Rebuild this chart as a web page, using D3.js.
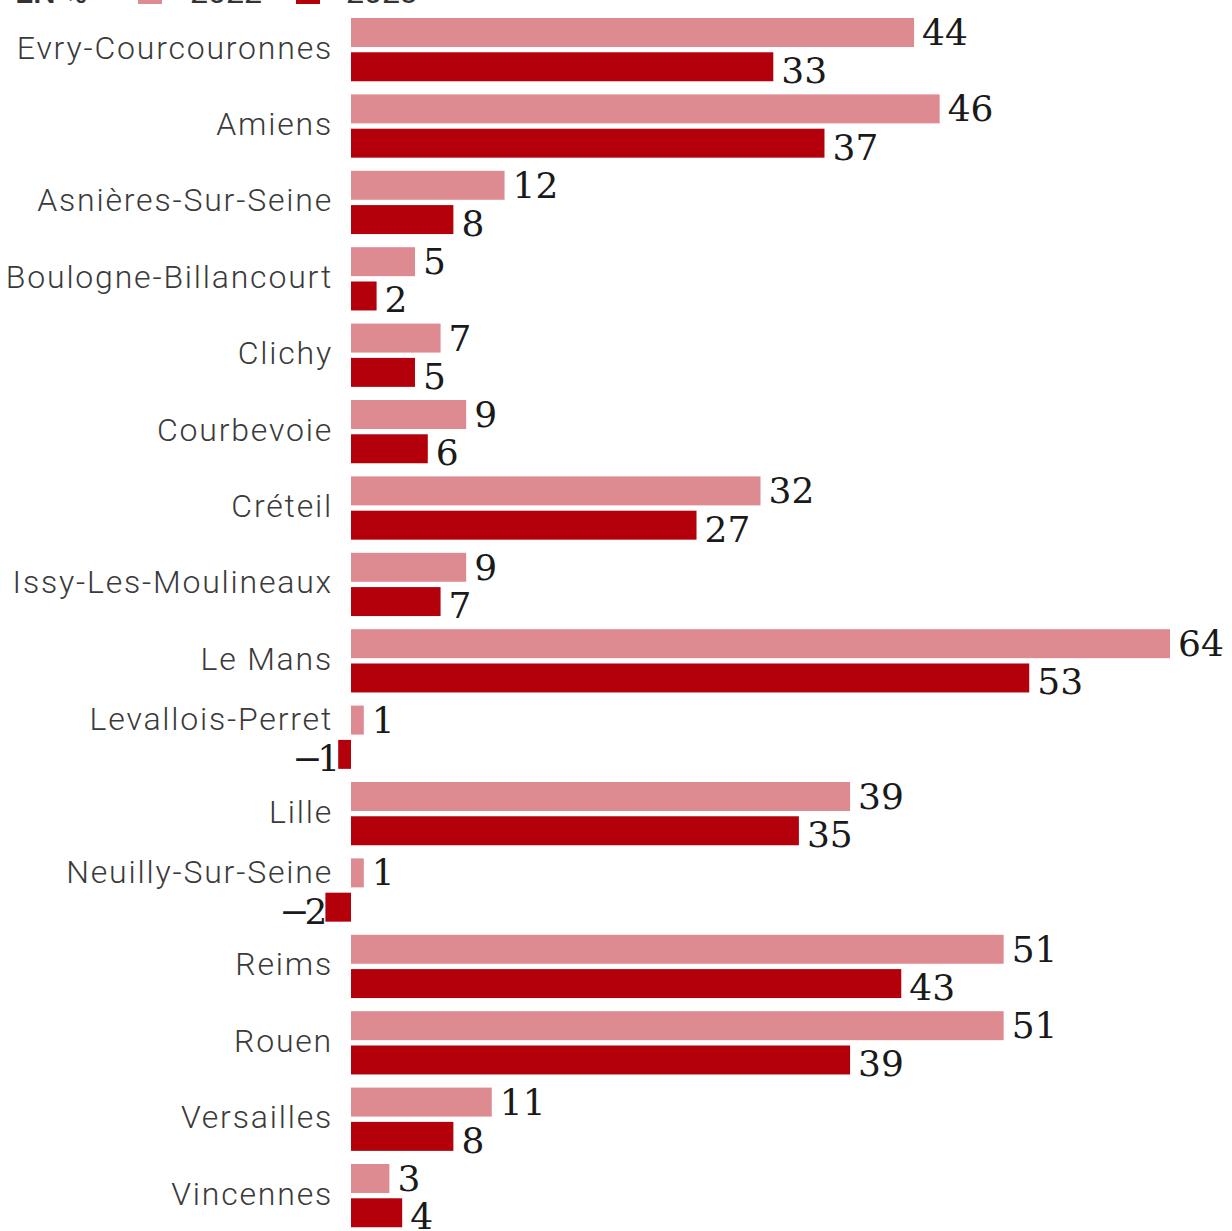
<!DOCTYPE html>
<html><head><meta charset="utf-8">
<script src="https://cdn.jsdelivr.net/npm/d3@7"></script>
<style>body{margin:0;background:#fff}svg{display:block}</style>
</head><body>
<script>
const categories = ["Evry-Courcouronnes","Amiens","Asnières-Sur-Seine","Boulogne-Billancourt","Clichy","Courbevoie","Créteil","Issy-Les-Moulineaux","Le Mans","Levallois-Perret","Lille","Neuilly-Sur-Seine","Reims","Rouen","Versailles","Vincennes"];
const values2022 = [44,46,12,5,7,9,32,9,64,1,39,1,51,51,11,3];
const values2023 = [33,37,8,2,5,6,27,7,53,-1,35,-2,43,39,8,4];
const seriesNames = ["2022","2023"];
const legendTitle = "EN %";
const colors = {"2022":"#dd8a91","2023":"#b4000a"};

const W=1232,H=1231;
const svg=d3.select("body").append("svg").attr("width",W).attr("height",H);
const x=d3.scaleLinear().domain([0,64]).range([351,1170]);
const y=d3.scaleBand().domain(categories).range([18,18+76.4*(16-0.172)]).paddingInner(0.172).paddingOuter(0);
const ys=d3.scaleBand().domain(seriesNames).range([0,y.bandwidth()]).paddingInner(0.155);

const data=categories.map((c,i)=>({c,v:{"2022":values2022[i],"2023":values2023[i]}}));
const fmt=v=>v<0?"\u2212"+Math.abs(v):String(v);

const g=svg.selectAll("g.row").data(data).join("g").attr("class","row").attr("transform",d=>`translate(0,${y(d.c)})`);
seriesNames.forEach(s=>{
  g.append("rect").attr("x",d=>x(Math.min(0,d.v[s]))).attr("y",ys(s))
   .attr("width",d=>Math.abs(x(d.v[s])-x(0))).attr("height",ys.bandwidth()).attr("fill",colors[s]);
  g.append("text")
   .attr("x",d=>d.v[s]<0?x(d.v[s])-3:x(d.v[s])+8)
   .attr("y",ys(s)+ys.bandwidth()+(s==="2022"?-2:2))
   .attr("text-anchor",d=>d.v[s]<0?"end":"start")
   .attr("letter-spacing",d=>d.v[s]<0?-5:0)
   .attr("font-family","DejaVu Serif").attr("font-size",36).attr("fill","#1a1a1a")
   .text(d=>fmt(d.v[s]));
});
g.append("text").attr("x",333).attr("text-anchor","end")
 .attr("y",d=>(d.v["2023"]<0||d.v["2022"]<0)?ys("2022")+ys.bandwidth()/2+10:y.bandwidth()/2+9)
 .attr("font-family","Roboto").attr("font-weight",300).attr("font-size",32).attr("letter-spacing",1.8).attr("fill","#3a3a3a")
 .text(d=>d.c);

// legend (cut at top)
const lg=svg.append("g").attr("font-family","Roboto").attr("font-size",32).attr("fill","#333");
lg.append("text").attr("x",15).attr("y",3).attr("font-weight",500).text(legendTitle);
lg.append("rect").attr("x",138).attr("y",-22).attr("width",24).attr("height",26).attr("fill",colors["2022"]);
lg.append("text").attr("x",190).attr("y",3).text(seriesNames[0]);
lg.append("rect").attr("x",296).attr("y",-22).attr("width",24).attr("height",26).attr("fill",colors["2023"]);
lg.append("text").attr("x",346).attr("y",3).text(seriesNames[1]);
</script>
</body></html>
